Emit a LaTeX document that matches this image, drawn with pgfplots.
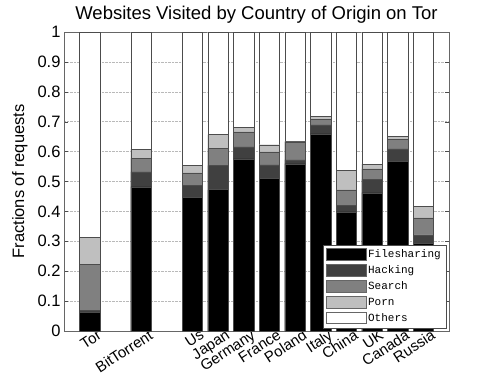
\documentclass[border=0pt]{standalone}
\usepackage{pgfplots}
\usepackage{pgfplotstable}
\pgfplotsset{compat=1.18}
\usepackage{fontspec}
\setmainfont{Liberation Sans}
\newfontfamily\legfont{Liberation Mono}
\pgfplotstableread{
x   fs     hack   search porn   others
1   0.063  0.007  0.153  0.090  0.687
3   0.482  0.050  0.045  0.031  0.392
5   0.447  0.039  0.043  0.025  0.446
6   0.473  0.081  0.057  0.046  0.343
7   0.576  0.040  0.050  0.015  0.319
8   0.511  0.045  0.043  0.024  0.377
9   0.559  0.013  0.061  0.001  0.366
10  0.659  0.030  0.018  0.012  0.281
11  0.398  0.022  0.052  0.065  0.463
12  0.462  0.045  0.035  0.016  0.442
13  0.567  0.042  0.032  0.009  0.350
14  0.293  0.029  0.056  0.040  0.582
}\datatable
\begin{document}
\begin{tikzpicture}[x=1pt,y=1pt]
\useasboundingbox (0,0) rectangle (498,375);
\begin{axis}[
  at={(64pt,44pt)}, anchor=south west,
  scale only axis, width=385pt, height=299pt,
  ybar stacked, bar width=0.8,
  xmin=0, xmax=15, ymin=0, ymax=1,
  xtick={1,3,5,6,7,8,9,10,11,12,13,14},
  xticklabels={Tor,BitTorrent,Us,Japan,Germany,France,Poland,Italy,China,UK,Canada,Russia},
  xticklabel style={rotate=33, anchor=north east, xshift=7pt, yshift=-2pt, font=\fontsize{15}{16}\selectfont, inner sep=0pt},
  ytick={0,0.1,0.2,0.3,0.4,0.5,0.6,0.7,0.8,0.9,1},
  yticklabels={0,0.1,0.2,0.3,0.4,0.5,0.6,0.7,0.8,0.9,1},
  yticklabel style={font=\fontsize{16.5}{18}\selectfont},
  ymajorgrids, grid style={densely dotted, gray!55},
  major tick length=4pt,
  tick style={black!70},
  tick align=inside,
  axis line style={black!60},
  title={Websites Visited by Country of Origin on Tor},
  title style={font=\fontsize{18.5}{20}\selectfont, yshift=-1pt},
  ylabel={Fractions of requests},
  ylabel style={font=\fontsize{16.5}{18}\selectfont, yshift=3pt},
  /pgf/number format/assume math mode=true,
  legend style={at={(0.992,0.01)}, anchor=south east, draw=black!70, fill=white,
    font=\legfont\fontsize{11}{12}\selectfont, row sep=2.6pt, inner sep=3pt,
    cells={anchor=west}},
  legend image code/.code={\draw[#1, draw=black!60] (0pt,-5.5pt) rectangle (40pt,6pt);},
]
\addplot+[fill=black, draw=black!70, mark=none] table[x=x,y=fs]{\datatable};
\addplot+[fill=black!75, draw=black!70, mark=none] table[x=x,y=hack]{\datatable};
\addplot+[fill=black!50, draw=black!70, mark=none] table[x=x,y=search]{\datatable};
\addplot+[fill=black!25, draw=black!70, mark=none] table[x=x,y=porn]{\datatable};
\addplot+[fill=white, draw=black!70, mark=none] table[x=x,y=others]{\datatable};
\legend{Filesharing,Hacking,Search,Porn,Others}
\end{axis}
\end{tikzpicture}
\end{document}
